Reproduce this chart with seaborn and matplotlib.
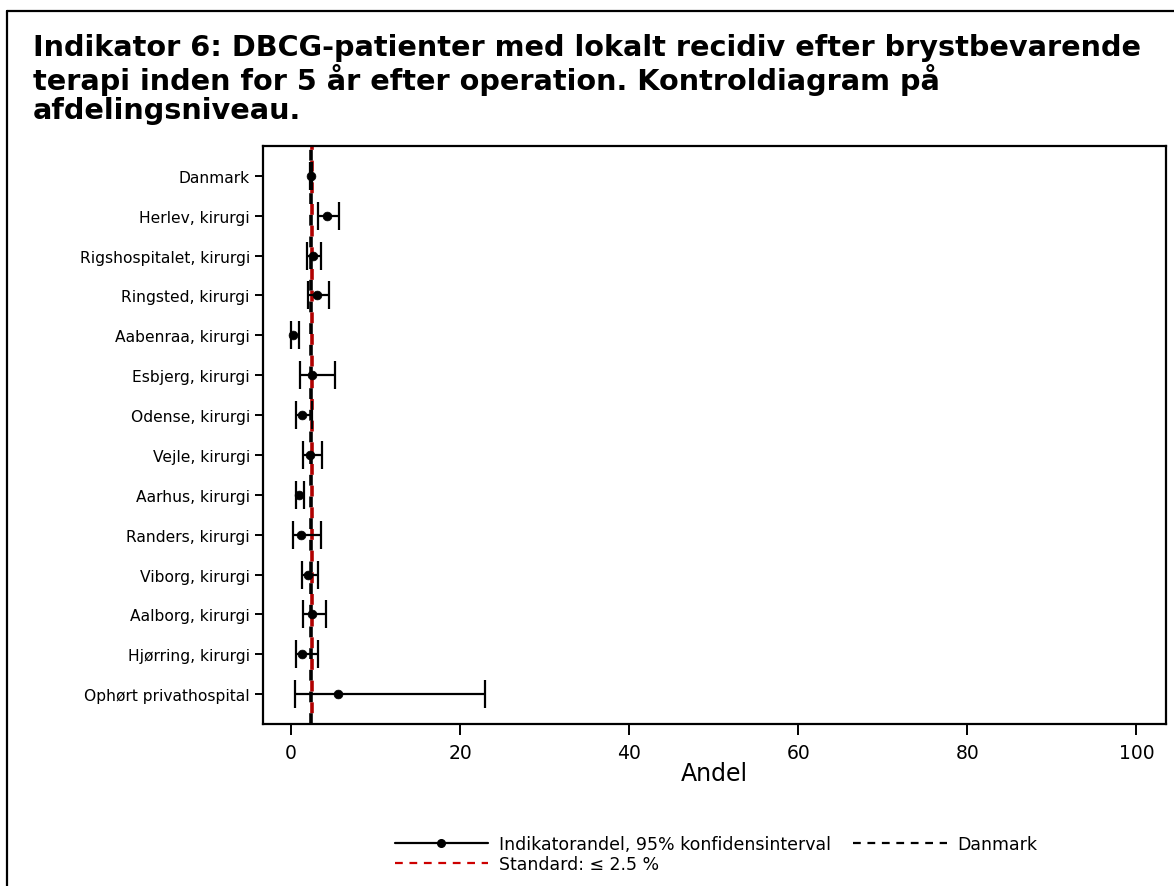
import matplotlib
matplotlib.use("Agg")
import matplotlib.pyplot as plt
import seaborn as sns
import pandas as pd
from matplotlib.lines import Line2D

categories = ["Danmark", "Herlev, kirurgi", "Rigshospitalet, kirurgi", "Ringsted, kirurgi",
              "Aabenraa, kirurgi", "Esbjerg, kirurgi", "Odense, kirurgi", "Vejle, kirurgi",
              "Aarhus, kirurgi", "Randers, kirurgi", "Viborg, kirurgi", "Aalborg, kirurgi",
              "Hjørring, kirurgi", "Ophørt privathospital"]
andel = [2.35, 4.3, 2.6, 3.1, 0.2, 2.45, 1.3, 2.25, 0.9, 1.15, 2.05, 2.45, 1.35, 5.6]
lower = [2.2, 3.25, 1.9, 2.05, 0.0, 1.1, 0.65, 1.45, 0.55, 0.3, 1.35, 1.45, 0.55, 0.45]
upper = [2.55, 5.7, 3.6, 4.5, 1.0, 5.2, 2.45, 3.7, 1.6, 3.55, 3.25, 4.2, 3.15, 23.0]
danmark_value = 2.35
standard_value = 2.5
xticks = [0, 20, 40, 60, 80, 100]

df = pd.DataFrame({"cat": categories, "andel": andel, "lower": lower, "upper": upper})
df["pos"] = range(len(df))

sns.set_style("ticks")
plt.rcParams['font.family'] = ['DejaVu Sans']
plt.rcParams.update({"text.color": "black", "axes.labelcolor": "black",
                     "xtick.color": "black", "ytick.color": "black"})

W, H = 1174, 887
fig = plt.figure(figsize=(W / 100, H / 100), dpi=100)
ax = fig.add_axes([263 / W, 1 - 725 / H, (1166 - 263) / W, (725 - 147) / H])

ax.errorbar(df["andel"], df["pos"],
            xerr=[df["andel"] - df["lower"], df["upper"] - df["andel"]],
            fmt="none", ecolor="black", elinewidth=1.6, capsize=10, capthick=1.6, zorder=3)
sns.scatterplot(data=df, x="andel", y="pos", color="black", s=40, edgecolor="black",
                zorder=4, ax=ax, legend=False)

ax.axvline(danmark_value, color="black", lw=2.6, ls=(0, (3, 3)), zorder=2)
ax.axvline(standard_value, color="#b00000", lw=2.6, ls=(3, (3, 3)), zorder=2)

ax.set_xlim(-3.3, 103.5)
ax.set_ylim(13.75, -0.75)
ax.set_yticks(range(len(categories)))
ax.set_yticklabels(categories, fontsize=11.2)
ax.set_xticks(xticks)
ax.set_xticklabels([str(t) for t in xticks], fontsize=13.5)
ax.set_xlabel("Andel", fontsize=17, labelpad=-1)
ax.set_ylabel("")
for s in ax.spines.values():
    s.set_linewidth(1.6)
    s.set_color("black")
ax.tick_params(axis="x", width=1.4, length=8, pad=6)
ax.tick_params(axis="y", width=1.4, length=6, pad=3.5)

fig.text(33 / W, 1 - 34 / H,
         "Indikator 6: DBCG-patienter med lokalt recidiv efter brystbevarende\n"
         "terapi inden for 5 år efter operation. Kontroldiagram på\n"
         "afdelingsniveau.",
         fontsize=20.7, fontweight="bold", va="top", ha="left", linespacing=1.07,
         color="black")

handles = [
    Line2D([0], [0], color="black", lw=1.6, marker="o", markersize=5.5),
    Line2D([0], [0], color="#cc0000", lw=1.6, ls=(0, (3.5, 3))),
    Line2D([0], [0], color="black", lw=1.6, ls=(0, (3.5, 3))),
]
labels = ["Indikatorandel, 95% konfidensinterval", "Standard: ≤ 2.5 %", "Danmark"]
fig.legend(handles, labels, ncol=2, loc="center", bbox_to_anchor=(716 / W, 1 - 855 / H),
           frameon=False, fontsize=12.5, handlelength=5.4, handletextpad=0.6,
           columnspacing=1.3, labelspacing=0.15, numpoints=1)

fig.add_artist(Line2D([7 / W, 7 / W], [0, 1 - 12 / H], transform=fig.transFigure,
                      color="black", lw=1.6))
fig.add_artist(Line2D([7 / W, 1], [1 - 12 / H, 1 - 12 / H], transform=fig.transFigure,
                      color="black", lw=1.6))

fig.savefig("out.png", dpi=100)
